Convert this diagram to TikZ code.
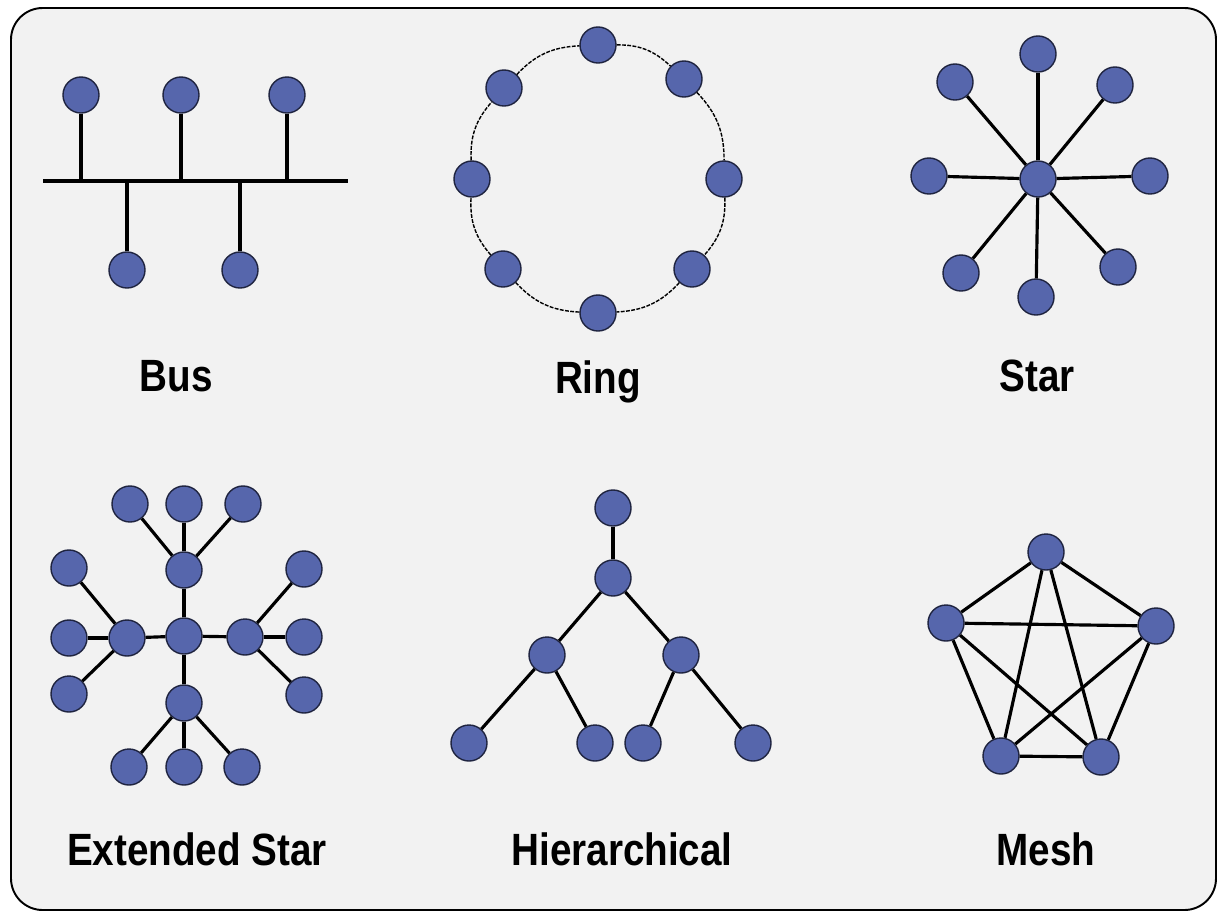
\documentclass[tikz,border=0pt]{standalone}
\usepackage{fontspec}
\setmainfont{Liberation Sans}
\usetikzlibrary{positioning}
\definecolor{panel}{HTML}{F2F2F2}
\definecolor{host}{HTML}{5666AC}
\definecolor{hostrim}{HTML}{1F2440}
\newcommand{\toplabel}[1]{\scalebox{1}[1.17]{#1}}

\begin{document}
\begin{tikzpicture}[x=0.02cm,y=-0.02cm,
  pc/.style={circle,draw=hostrim,fill=host,line width=.8pt,minimum size=20.5pt,inner sep=0pt},
  link/.style={line width=1.8pt},
  ringline/.style={line width=.8pt,dash pattern=on 2.2pt off .8pt},
  lbl/.style={anchor=base,font=\fontsize{22}{26}\selectfont\bfseries}]
\useasboundingbox (0,0) rectangle (1219,913);
\draw[fill=panel,line width=1.1pt,rounded corners=18pt] (11,8) rectangle (1216,910);

% bus
\coordinate (busL) at (43,181); \coordinate (busR) at (348,181);
\draw[line width=2.3pt] (busL)--(busR);
\foreach \n/\x/\y in {b1/81/95,b2/181/95,b3/287/95,b4/127/270,b5/240/270}{
  \node[pc] (\n) at (\x,\y) {};
  \draw[link] (\n)--(\n |- busL);}
\node[lbl] (tBus) at (176,391) {\toplabel{Bus}};

% ring
\foreach \n/\x/\y in {r1/598/45,r2/684/79,r3/724/179,r4/692/269,r5/598/313,r6/503/269,r7/472/179,r8/504/88}
  \node[pc] (\n) at (\x,\y) {};
\foreach \a/\b in {r1/r2,r2/r3,r3/r4,r4/r5,r5/r6,r6/r7,r7/r8,r8/r1}
  \draw[ringline] (\a) to[bend left=22] (\b);
\node[lbl] (tRing) at (598,393) {\toplabel{Ring}};

% star
\node[pc] (s0) at (1038,179) {};
\foreach \n/\x/\y in {s1/1038/54,s2/1115/85,s3/1150/176,s4/1118/267,s5/1036/297,s6/961/273,s7/929/176,s8/955/82}{
  \node[pc] (\n) at (\x,\y) {};
  \draw[link] (s0)--(\n);}
\node[lbl] (tStar) at (1037,391) {\toplabel{Star}};

% extended star
\node[pc] (e0) at (184,636) {};
\foreach \h/\x/\y in {eT/184/570,eL/127/638,eR/245/637,eB/184/703}{
  \node[pc] (\h) at (\x,\y) {};
  \draw[link] (e0)--(\h);}
\foreach \h/\n/\x/\y in {eT/et1/130/504,eT/et2/184/504,eT/et3/243/504,
    eL/el1/69/568,eL/el2/69/638,eL/el3/69/694,
    eR/er1/304/569,eR/er2/304/637,eR/er3/304/695,
    eB/eb1/129/767,eB/eb2/184/767,eB/eb3/242/767}{
  \node[pc] (\n) at (\x,\y) {};
  \draw[link] (\h)--(\n);}
\node[lbl] (tExt) at (197,865) {\toplabel{Extended Star}};

% hierarchical
\foreach \n/\x/\y in {h1/613/508,h2/613/578,h3/547/655,h4/681/655,h5/469/743,h6/595/743,h7/643/743,h8/753/743}
  \node[pc] (\n) at (\x,\y) {};
\foreach \a/\b in {h1/h2,h2/h3,h2/h4,h3/h5,h3/h6,h4/h7,h4/h8}
  \draw[link] (\a)--(\b);
\node[lbl] (tHier) at (622,865) {\toplabel{Hierarchical}};

% mesh
\foreach \n/\x/\y in {m1/1046/552,m2/1156/626,m3/1101/757,m4/1001/756,m5/946/623}
  \node[pc] (\n) at (\x,\y) {};
\foreach \a/\b in {m1/m2,m1/m3,m1/m4,m1/m5,m2/m3,m2/m4,m2/m5,m3/m4,m3/m5,m4/m5}
  \draw[link] (\a)--(\b);
\node[lbl] (tMesh) at (1046,865) {\toplabel{Mesh}};
\end{tikzpicture}
\end{document}
